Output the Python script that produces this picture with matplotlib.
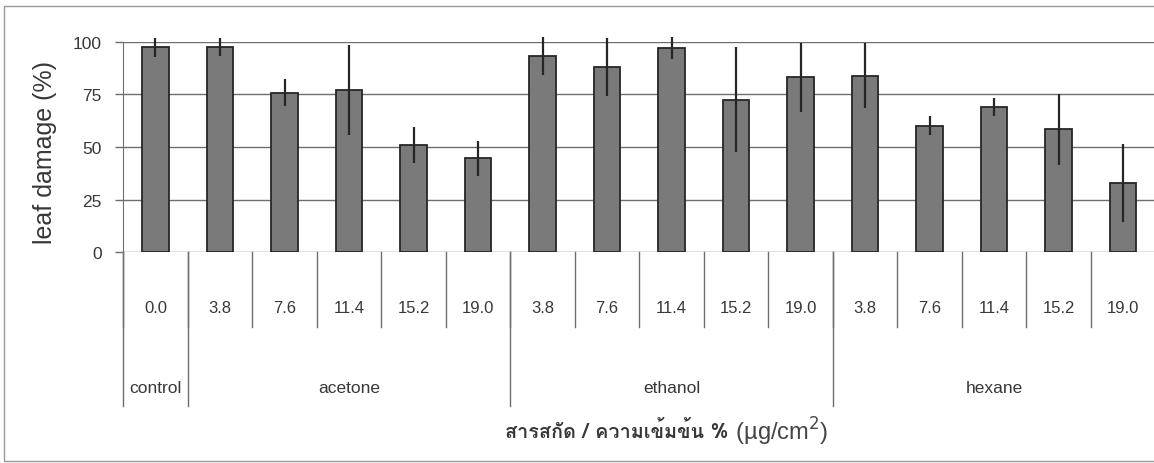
import matplotlib
matplotlib.use("Agg")
import matplotlib.pyplot as plt
import matplotlib.transforms as mtransforms
from matplotlib import font_manager, ft2font
from matplotlib.patches import Rectangle

# leaf damage (%) by extract and concentration (ug/cm2)
groups = ["control", "acetone", "ethanol", "hexane"]
group_sizes = [1, 5, 5, 5]
concentrations = ["0.0", "3.8", "7.6", "11.4", "15.2", "19.0",
                  "3.8", "7.6", "11.4", "15.2", "19.0",
                  "3.8", "7.6", "11.4", "15.2", "19.0"]
damage = [97.3, 97.5, 75.8, 76.9, 50.8, 44.6,
          93.4, 88.0, 96.9, 72.5, 83.1,
          83.9, 60.1, 68.9, 58.5, 32.9]
damage_err = [4.5, 4.4, 6.3, 21.3, 8.5, 8.2,
              9.0, 13.8, 5.1, 24.9, 16.5,
              15.3, 4.5, 4.4, 16.8, 18.5]

y_ticks = [0, 25, 50, 75, 100]
x_title = "สารสกัด / ความเข้มข้น %"
x_unit = r"(µg/cm$^2$)"
y_title = "leaf damage (%)"


def thai_family():
    # first installed font that actually has Thai glyphs
    for f in font_manager.fontManager.ttflist:
        try:
            if ft2font.FT2Font(f.fname).get_char_index(0x0E2A):
                return f.name
        except Exception:
            pass
    return "DejaVu Sans"


plt.rcParams["font.family"] = ["Liberation Sans", "DejaVu Sans"]
text_col = "#383838"
line_col = "#6e6e6e"

fig = plt.figure(figsize=(11.54, 4.64), dpi=100)
ax = fig.add_axes([0.1068, 0.454, 0.8943, 0.454])

x = list(range(len(damage)))
ax.bar(x, damage, width=0.41, color="#7a7a7a", edgecolor="#262626",
       linewidth=1.3, zorder=3)
ax.errorbar(x, damage, yerr=damage_err, fmt="none", ecolor="#262626",
            elinewidth=1.6, capsize=0, zorder=4, clip_on=False)

ax.set_xlim(-0.5, len(damage) - 0.5)
ax.set_ylim(0, 100)
ax.set_yticks(y_ticks)
ax.set_xticks([])
ax.grid(axis="y", color=line_col, linewidth=1.0, zorder=0)
for side in ["top", "right", "bottom"]:
    ax.spines[side].set_visible(False)
ax.spines["left"].set_color(line_col)
ax.tick_params(axis="y", length=5.8, width=1.0, color=line_col, pad=9.5,
               labelsize=12.5, labelcolor=text_col)

# table-style category axis under the bars
trans = mtransforms.blended_transform_factory(ax.transData, ax.transAxes)
for i, lab in enumerate(concentrations):
    ax.text(i, -0.26, lab, transform=trans, ha="center", va="center",
            fontsize=12, color=text_col)
    ax.plot([i - 0.5, i - 0.5], [0, -0.355], transform=trans,
            color=line_col, linewidth=1.0, clip_on=False)

start = 0
for name, n in zip(groups, group_sizes):
    ax.plot([start - 0.5, start - 0.5], [0, -0.729], transform=trans,
            color=line_col, linewidth=1.0, clip_on=False)
    ax.text(start + (n - 1) / 2, -0.64, name, transform=trans,
            ha="center", va="center", fontsize=12.5, color=text_col)
    start += n

fig.text(0.039, 0.672, y_title, rotation=90, ha="center", va="center",
         fontsize=18, color=text_col)

t1 = fig.text(0.438, 0.069, x_title, ha="left", va="center",
              fontsize=14.3, fontweight="bold", color=text_col,
              family=[thai_family(), "DejaVu Sans"])
ax.annotate(" " + x_unit, xy=(1, 0.5), xycoords=t1, ha="left", va="center",
            fontsize=17, color="#444444")

fig.add_artist(Rectangle((0.0035, 0.0043), 1.0, 0.9806,
                         transform=fig.transFigure, fill=False,
                         edgecolor="#9a9a9a", linewidth=1.0))

fig.savefig("out.png", dpi=100)
